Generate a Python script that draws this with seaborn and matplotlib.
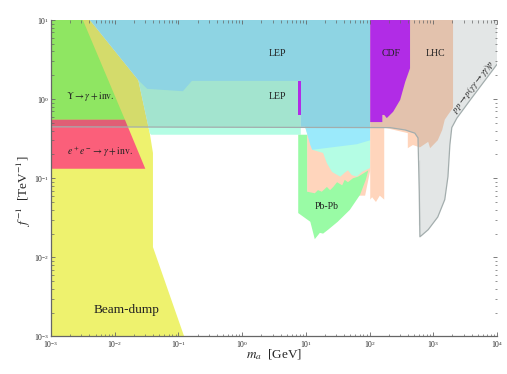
import numpy as np
import matplotlib
matplotlib.use("Agg")
import matplotlib.pyplot as plt
import seaborn as sns
import pandas as pd

# ---- exclusion-region boundaries ----
# values are log10(m_a / GeV) and log10(f^-1 / TeV^-1)
beamdump_logm = [-3, -3, -2.39, -1.63, -1.45, -1.40, -1.40, -0.91]
beamdump_logf = [-3, 1, 1, 0.24, -0.43, -0.68, -1.87, -3]

upsilon_logm = [-3, -3, -2.50, -1.84]
upsilon_logf = [-0.26, 1, 1, -0.26]

ee_logm = [-3, -3, -1.84, -1.52]
ee_logf = [-0.88, -0.26, -0.26, -0.88]

lep_low_logm = [-1.63, 0.92, 0.92, -1.43, -1.45]
lep_low_logf = [0.24, 0.24, -0.45, -0.45, -0.43]

lep_tail_logm = [0.99, 1.10, 1.27, 1.33, 1.41, 1.54, 1.61, 1.66, 1.72, 1.80, 1.88, 2.01, 2.01]
lep_tail_logf = [-0.36, -0.64, -0.68, -0.81, -0.92, -0.98, -0.93, -0.90, -0.96, -0.98, -0.92, -0.87, -0.36]

lhc_low_logm = [1.02, 1.02, 1.93, 2.01, 2.01]
lhc_low_logf = [-0.36, -1.22, -1.22, -0.90, -0.36]

pbpb_logm = [0.88, 1.02, 1.02, 1.14, 1.19, 1.25, 1.33, 1.38, 1.43, 1.49, 1.57, 1.61, 1.66,
             1.74, 1.82, 1.88, 1.98, 1.94, 1.85, 1.69, 1.50, 1.35, 1.27, 1.22, 1.14, 1.07, 0.88]
pbpb_logf = [-0.45, -0.45, -1.17, -1.19, -1.15, -1.17, -1.11, -1.15, -1.11, -1.05, -1.09, -1.02, -1.05,
             -1.00, -0.98, -0.95, -0.90, -1.02, -1.21, -1.40, -1.55, -1.65, -1.70, -1.69, -1.77, -1.55, -1.44]

lep_high_logm = [-2.39, 2.01, 2.01, 1.80, 1.30, 1.10, 1.07, 0.99, 0.92, 0.92, -0.79, -0.93, -1.49, -1.63]
lep_high_logf = [1, 1, -0.52, -0.57, -0.62, -0.64, -0.58, -0.35, -0.35, 0.23, 0.23, 0.10, 0.13, 0.24]

lep_bar_logm = [0.88, 0.92, 0.92, 0.88]
lep_bar_logf = [0.23, 0.23, -0.20, -0.20]

lhc_logm = [2.01, 3.31, 3.31, 3.23, 3.18, 3.14, 3.07, 2.95, 2.92, 2.79, 2.68, 2.60, 2.60,
            2.23, 2.23, 2.16, 2.10, 2.04, 2.01]
lhc_logf = [1, 1, -0.11, -0.20, -0.26, -0.39, -0.52, -0.62, -0.54, -0.61, -0.58, -0.62, -0.43,
            -0.36, -1.27, -1.22, -1.30, -1.24, -1.27]

cdf_logm = [2.01, 2.635, 2.635, 2.56, 2.48, 2.37, 2.27, 2.23, 2.20, 2.20, 2.01]
cdf_logf = [1, 1, 0.39, 0.22, -0.01, -0.16, -0.24, -0.20, -0.20, -0.29, -0.29]

ppgg_logm = [-3, 4.0, 4.0, 3.58, 3.37, 3.29, 3.26, 3.23, 3.18, 3.07, 2.92, 2.82, 2.79,
             2.78, 2.78, 2.76, 2.71, 2.56, 2.32, -3]
ppgg_logf = [1, 1, 0.44, -0.01, -0.24, -0.36, -0.58, -0.98, -1.27, -1.49, -1.65, -1.72, -1.74,
             -1.59, -0.77, -0.49, -0.43, -0.39, -0.36, -0.35]

labels = ["LEP", "LEP", "CDF", "LHC", r"$\Upsilon\to\gamma+\mathrm{inv.}$",
          r"$e^+e^-\to\gamma+\mathrm{inv.}$", "Pb-Pb", "Beam-dump",
          r"$pp\to p(\gamma\gamma\to\gamma\gamma)p$"]
label_logm = [0.56, 0.56, 2.34, 3.03, -2.39, -2.23, 1.32, -1.82, 3.63]
label_logf = [0.58, 0.03, 0.58, 0.58, 0.03, -0.67, -1.36, -2.67, 0.15]
label_size = [7, 7, 7, 7, 7, 7, 7, 9.5, 6.6]
label_rot = [0, 0, 0, 0, 0, 0, 0, 0, 53]

# ---- style ----
sns.set_style("ticks")
plt.rcParams["font.family"] = ["Liberation Serif", "DejaVu Serif"]
plt.rcParams["mathtext.fontset"] = "stix"

fig = plt.figure(figsize=(5.07, 3.74), dpi=100)
ax = fig.add_axes([0.1006, 0.1003, 0.8797, 0.8462])
ax.set_xscale("log")
ax.set_yscale("log")
ax.set_xlim(1e-3, 1e4)
ax.set_ylim(1e-3, 1e1)


def region(lm, lf, color, z, alpha=1.0):
    ax.fill(10.0 ** np.asarray(lm), 10.0 ** np.asarray(lf), color=color,
            lw=0, zorder=z, alpha=alpha)


region(beamdump_logm, beamdump_logf, "#eef26e", 1)
region(upsilon_logm, upsilon_logf, "#9cff64", 2)
region(ee_logm, ee_logf, "#fb5f7a", 2)
region(lhc_low_logm, lhc_low_logf, "#ffd5bc", 3)
region(lep_low_logm, lep_low_logf, "#b4fde4", 3)
region(lep_tail_logm, lep_tail_logf, "#b4fde4", 3.5)
region(pbpb_logm, pbpb_logf, "#99fba5", 4)
region(lep_high_logm, lep_high_logf, "#9beafb", 5)
region(lep_bar_logm, lep_bar_logf, "#c425ff", 5)
region(lhc_logm, lhc_logf, "#ffd5bc", 6)
region(cdf_logm, cdf_logf, "#c425ff", 6.5)
region(ppgg_logm, ppgg_logf, "#465a5a", 7, alpha=0.15)

edge = pd.DataFrame({"m": 10.0 ** np.asarray(ppgg_logm[2:]),
                     "f": 10.0 ** np.asarray(ppgg_logf[2:])})
sns.lineplot(data=edge, x="m", y="f", sort=False, color="#a3adad", lw=0.9,
             ax=ax, zorder=8)

for t, lm, lf, s, r in zip(labels, label_logm, label_logf, label_size, label_rot):
    ax.text(10.0 ** lm, 10.0 ** lf, t, fontsize=s, rotation=r,
            ha="center", va="center", zorder=10, color="#222222")

ax.set_xlabel(r"$m_a$  [GeV]", fontsize=9.5)
ax.set_ylabel(r"$f^{-1}$  [TeV$^{-1}$]", fontsize=9.5)
ax.xaxis.set_label_coords(0.5, -0.035)
ax.yaxis.set_label_coords(-0.04, 0.46)

for side in ("top", "right"):
    ax.spines[side].set_visible(False)
for side in ("left", "bottom"):
    ax.spines[side].set_color("#666666")
    ax.spines[side].set_linewidth(0.9)
    ax.spines[side].set_zorder(20)
ax.xaxis.set_zorder(20)
ax.yaxis.set_zorder(20)

ax.tick_params(which="both", direction="in", top=True, right=True,
               color="#666666", labelsize=5.5, pad=1.5)
ax.tick_params(which="major", length=3, width=0.6)
ax.tick_params(which="minor", length=1.8, width=0.5)

fig.savefig("out.png", dpi=100)
